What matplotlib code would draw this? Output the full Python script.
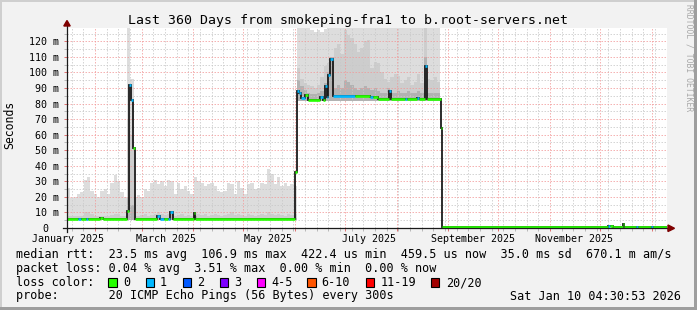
import numpy as np
import matplotlib
matplotlib.use('Agg')
import matplotlib.pyplot as plt
import matplotlib.dates as mdates
from matplotlib.patches import Rectangle, Polygon
from matplotlib.lines import Line2D
from datetime import datetime, timedelta

plt.rcParams['font.family'] = ['DejaVu Sans Mono']

# ---------------- data ----------------
start = datetime(2025, 1, 15, 4, 30, 53)
end = datetime(2026, 1, 10, 4, 30, 53)

# smoke bins (days since start): 2-day bins up to day 224, then one bin to the end
smoke_bin_days = list(range(0, 225, 2)) + [360]

smoke_min = [
    5.0, 5.0, 5.0, 5.0, 5.0, 5.0, 5.0, 5.0, 5.0, 5.0, 5.0, 5.0, 5.0, 5.0, 5.0, 5.0, 5.0, 5.0,
    5.0, 5.0,
    5.0, 5.0, 5.0, 5.0, 5.0, 5.0, 5.0, 5.0, 5.0, 5.0, 5.0, 5.0, 5.0, 5.0, 5.0, 5.0, 5.0, 5.0,
    5.0, 5.0, 5.0, 5.0, 5.0, 5.0, 5.0, 5.0, 5.0, 5.0, 5.0, 5.0, 5.0, 5.0, 5.0, 5.0, 5.0, 5.0,
    5.0, 5.0, 5.0, 5.0, 5.0, 5.0, 5.0, 5.0, 5.0, 5.0, 5.0, 5.0, 5.0,
    81.5, 81.5, 81.5, 81.5, 81.5, 81.5, 81.5, 81.5, 81.5, 81.5, 81.5, 81.5, 81.5, 81.5, 81.5,
    81.5, 81.5, 81.5, 81.5, 81.5, 81.5, 81.5, 81.5, 81.5, 81.5, 81.5, 81.5, 81.5, 81.5, 81.5,
    81.5, 81.5, 81.5, 81.5, 81.5, 81.5, 81.5, 81.5, 81.5, 81.5, 81.5, 81.5, 81.5,
    0.35]

smoke_max = [
    26, 19, 20, 22, 23, 31, 33, 24, 22, 20, 24, 25, 22, 29, 34, 30, 23, 20,
    135, 96,
    20, 21, 20, 25, 24, 29, 31, 28, 30, 27, 31, 30, 22, 29, 25, 27, 24, 22, 33, 30,
    29, 27, 28, 29, 27, 24, 23, 24, 29, 28, 22, 30, 26, 22, 28, 29, 25, 26, 29, 28,
    38, 35, 28, 33, 27, 29, 27, 28, 27,
    135, 135, 135, 135, 127, 126, 127, 126, 128, 135, 135, 135, 135, 135, 135, 135, 135, 135,
    135, 135, 135, 135, 135, 135, 135, 135, 135, 135, 135, 135, 135, 135, 135, 135, 135, 135,
    135, 135, 135, 135, 135, 135, 135,
    0.9]

smoke_mid = [
    8, 7.5, 7.5, 8, 8, 10, 10, 9, 8, 7.5, 8, 8, 7.5, 8.5, 9, 9, 8, 8,
    70, 60,
    8, 8, 8.5, 9, 8, 8.5, 9, 10, 9, 8.5, 9, 10, 8, 8.5, 9, 8, 8.5, 8, 9.5, 9,
    8.5, 9, 8, 8.5, 9, 8.5, 8, 8.5, 9, 10, 8.5, 9, 8.5, 8, 9, 8.5, 8, 8.5, 9, 8.5,
    10, 9, 8.5, 9, 8.5, 8, 9, 8.5, 9,
    103, 96, 93, 92, 91, 90, 92, 97, 104, 106, 108, 116, 118, 112, 127, 124, 122, 118,
    113, 116, 120, 121, 103, 107, 106, 100, 96, 94, 97, 99, 98, 93, 95, 97, 92, 94,
    99, 93, 135, 96, 95, 97, 94,
    0.6]

smoke_core = [
    6.3, 6.2, 6.3, 6.4, 6.3, 6.6, 6.6, 6.4, 6.3, 6.2, 6.3, 6.4, 6.2, 6.4, 6.5, 6.5, 6.3, 6.3,
    20, 15,
    6.3, 6.3, 6.4, 6.4, 6.3, 6.4, 6.5, 7.5, 6.5, 6.4, 6.5, 9.0, 6.3, 6.4, 6.5, 6.3, 6.4, 6.3,
    8.0, 6.5, 6.4, 6.5, 6.3, 6.4, 6.5, 6.4, 6.3, 6.4, 6.5, 6.6, 6.4, 6.5, 6.4, 6.3, 6.5, 6.4,
    6.3, 6.4, 6.5, 6.4, 6.6, 6.5, 6.4, 6.5, 6.4, 6.3, 6.5, 6.4, 6.5,
    95, 91, 89, 87, 86, 86, 87, 88, 93, 100, 110, 90, 92, 90, 95, 94, 92, 90,
    89, 90, 91, 90, 89, 90, 88, 87, 87, 90, 87, 87, 88, 87, 87, 88, 87, 87,
    88, 87, 110, 87, 87, 87, 87,
    0.5]

# median RTT (ms) as steps: start day, value, loss category
med_day = [0, 6.6, 8.6, 11.4, 12.6, 20.0, 21.4, 36.0, 37.4, 38.6, 39.8, 40.8, 54.2, 55.6,
           56.0, 58.0, 60.6, 62.0, 63.4, 76.0, 77.0, 136.6, 138.0, 139.2, 140.4, 142.8,
           144.3, 151.8, 153.3, 154.8, 156.0, 156.8, 157.8, 159.6, 172.8, 181.8, 183.6,
           186.6, 193.2, 194.4, 202.8, 203.7, 209.7, 210.9, 214.8, 216.2, 224.4, 225.2,
           324.6, 326.1, 327.6, 333.4, 334.4, 341.4, 342.6, 350.4, 351.6]
med_ms = [6, 6, 6, 6, 6, 6.6, 6, 11, 92, 82.5, 51.6, 6, 8, 6, 6, 6, 6, 10.5, 6, 9.5, 6,
          36, 88, 86.9, 83.6, 85.4, 82.6, 84, 82.6, 91, 84, 98.7, 108.4, 84.7, 84.7, 84.5,
          84.5, 83.2, 88, 83, 83, 83, 83.5, 83, 104, 83, 64.3, 0.45, 1.5, 1.2, 0.45, 2.4,
          0.45, 0.45, 0.45, 0.45, 0.45]
med_loss = [0, 1, 0, 1, 0, 0, 0, 0, 1, 1, 0, 0, 1, 0, 1, 0, 1, 1, 0, 0, 0, 0, 1, 1, 1, 0,
            0, 1, 0, 1, 1, 1, 1, 1, 0, 1, 0, 0, 1, 0, 1, 0, 1, 0, 1, 0, 0, 0, 1, 0, 0, 0,
            0, 1, 0, 1, 0]

loss_labels = ['0', '1', '2', '3', '4-5', '6-10', '11-19', '20/20']
loss_colors = ['#26ff00', '#00b8ff', '#0059ff', '#7e00ff', '#ff00ff', '#ff5500', '#ff0000', '#a10000']

y_ticks = [10, 20, 30, 40, 50, 60, 70, 80, 90, 100, 110, 120]
x_labels = ['January 2025', 'March 2025', 'May 2025', 'July 2025', 'September 2025', 'November 2025']
x_label_months = [(2025, 1), (2025, 3), (2025, 5), (2025, 7), (2025, 9), (2025, 11)]

title = 'Last 360 Days from smokeping-fra1 to b.root-servers.net'
legend_lines = [
    'median rtt:  23.5 ms avg  106.9 ms max  422.4 us min  459.5 us now  35.0 ms sd  670.1 m am/s',
    'packet loss: 0.04 % avg  3.51 % max  0.00 % min  0.00 % now',
]
probe_text = 'probe:       20 ICMP Echo Pings (56 Bytes) every 300s'
stamp_text = 'Sat Jan 10 04:30:53 2026'

# ---------------- figure ----------------
W, H = 697, 310
def fx(px):
    return px / W
def fy(py):
    return 1 - py / H

fig = plt.figure(figsize=(W / 100, H / 100), dpi=100, facecolor='#f2f2f2')
ax = fig.add_axes([fx(67), fy(228), 600 / W, 200 / H])
ax.set_facecolor('white')
for s in ax.spines.values():
    s.set_visible(False)

t0 = mdates.date2num(start)
t1 = mdates.date2num(end)
ax.set_xlim(t0, t1)
ax.set_ylim(0, 128.6)

# smoke
edges = t0 + np.array(smoke_bin_days, dtype=float)
base = np.array(smoke_min, dtype=float)
ax.stairs(smoke_max, edges, baseline=base, fill=True, color='#dddddd', lw=0, zorder=1)
ax.stairs(smoke_mid, edges, baseline=base, fill=True, color='#cdcdcd', lw=0, zorder=2)
ax.stairs(smoke_core, edges, baseline=base, fill=True, color='#b2b2b2', lw=0, zorder=3)

# grid
months = [datetime(2025, m, 1) for m in range(2, 13)] + [datetime(2026, 1, 1)]
weeks = []
d = datetime(2025, 1, 18)
while d < end:
    if d not in months:
        weeks.append(d)
    d += timedelta(days=7)
dots = (0, (1.5, 1.5))
minor_col = '#c8c8c8'
major_col = '#f29a9a'
for w in weeks:
    ax.axvline(mdates.date2num(w), color=minor_col, lw=0.72, ls=dots, zorder=4, alpha=0.75)
for m in months:
    ax.axvline(mdates.date2num(m), color=major_col, lw=0.72, ls=dots, zorder=4, alpha=0.75)
for v in range(5, 129, 5):
    if v % 10 == 0:
        ax.axhline(v, color=major_col, lw=0.72, ls=dots, zorder=4, alpha=0.75)
    else:
        ax.axhline(v, color=minor_col, lw=0.72, ls=dots, zorder=4, alpha=0.75)

# tick marks
ax.set_xticks([mdates.date2num(m) for m in months])
ax.set_xticks([mdates.date2num(w) for w in weeks], minor=True)
ax.set_yticks(y_ticks)
ax.set_yticks([v for v in range(5, 129, 10)], minor=True)
ax.tick_params(which='major', direction='out', length=2.2, width=0.7, color='#e07070',
               labelbottom=False, labelleft=False)
ax.tick_params(which='minor', direction='out', length=2.2, width=0.7, color='#b8b8b8',
               labelbottom=False, labelleft=False)

# median line
med_edges = t0 + np.array(med_day + [360], dtype=float)
ax.stairs(med_ms, med_edges, baseline=None, color='#1a1a1a', lw=1.3, zorder=6)
for i in range(len(med_ms)):
    ax.hlines(med_ms[i], med_edges[i], med_edges[i + 1], color=loss_colors[med_loss[i]],
              lw=1.9, zorder=7, capstyle='butt')

# tick labels
ytr = ax.get_yaxis_transform()
for v in y_ticks:
    ax.text(-8 / 600, v, f'{v} m', transform=ytr, ha='right', va='center_baseline',
            fontsize=7.2, clip_on=False)
ax.text(-22 / 600, 0, '0', transform=ytr, ha='center', va='center_baseline',
        fontsize=7.2, clip_on=False)
xtr = ax.get_xaxis_transform()
for lab, (yy, mm) in zip(x_labels, x_label_months):
    ax.text(mdates.date2num(datetime(yy, mm, 15, 12)), -(241.5 - 228) / 200, lab,
            transform=xtr, ha='center', va='baseline', fontsize=7.2, clip_on=False)

# axes lines and arrows
axis_col = '#1a1a1a'
fig.add_artist(Line2D([fx(63), fx(668)], [fy(228.3), fy(228.3)], color=axis_col, lw=0.9, zorder=20))
fig.add_artist(Line2D([fx(67), fx(67)], [fy(232), fy(25)], color=axis_col, lw=0.9, zorder=20))
fig.add_artist(Polygon([(fx(668), fy(225)), (fx(668), fy(231.5)), (fx(674.5), fy(228.3))],
                       closed=True, color='#7f0000', transform=fig.transFigure, zorder=21))
fig.add_artist(Polygon([(fx(63.8), fy(26)), (fx(70.2), fy(26)), (fx(67), fy(20.5))],
                       closed=True, color='#7f0000', transform=fig.transFigure, zorder=21))

# title, unit, watermark
fig.text(fx(347.5), fy(24), title, ha='center', va='baseline', fontsize=9.5)
fig.text(fx(10), fy(125), 'Seconds', rotation=90, ha='center', va='center', fontsize=8.3)
fig.text(fx(688.5), fy(4), 'RRDTOOL / TOBI OETIKER', rotation=-90, ha='center', va='top',
         fontsize=5.8, color='#a8a8a8')

# legend
fig.text(fx(16), fy(258), legend_lines[0], ha='left', va='baseline', fontsize=8.5)
fig.text(fx(16), fy(272), legend_lines[1], ha='left', va='baseline', fontsize=8.5)
fig.text(fx(16), fy(286), 'loss color:', ha='left', va='baseline', fontsize=8.5)
box_x = [108.3, 145.7, 182.7, 220, 256.7, 307.3, 365.7, 430.7]
lab_x = [123, 160, 197, 234, 271, 321.7, 380.7, 445.7]
for bx, lx, c, lab in zip(box_x, lab_x, loss_colors, loss_labels):
    fig.add_artist(Rectangle((fx(bx), fy(286.7)), 8.3 / W, 8.3 / H, facecolor=c,
                             edgecolor='black', lw=0.8, transform=fig.transFigure))
    fig.text(fx(lx), fy(286), lab, ha='left', va='baseline', fontsize=8.5)
fig.text(fx(16), fy(299.5), probe_text, ha='left', va='baseline', fontsize=8.5)
fig.text(fx(681), fy(299.5), stamp_text, ha='right', va='baseline', fontsize=8.5)

# frame shading
fig.add_artist(Rectangle((0, 1 - 2 / H), 1, 2 / H, color='#cfcfcf', transform=fig.transFigure, lw=0))
fig.add_artist(Rectangle((0, 0), 2 / W, 1, color='#cfcfcf', transform=fig.transFigure, lw=0))
fig.add_artist(Rectangle((0, 0), 1, 3 / H, color='#9e9e9e', transform=fig.transFigure, lw=0))
fig.add_artist(Rectangle((1 - 3 / W, 0), 3 / W, 1, color='#9e9e9e', transform=fig.transFigure, lw=0))

fig.savefig('out.png', dpi=100, facecolor=fig.get_facecolor())
